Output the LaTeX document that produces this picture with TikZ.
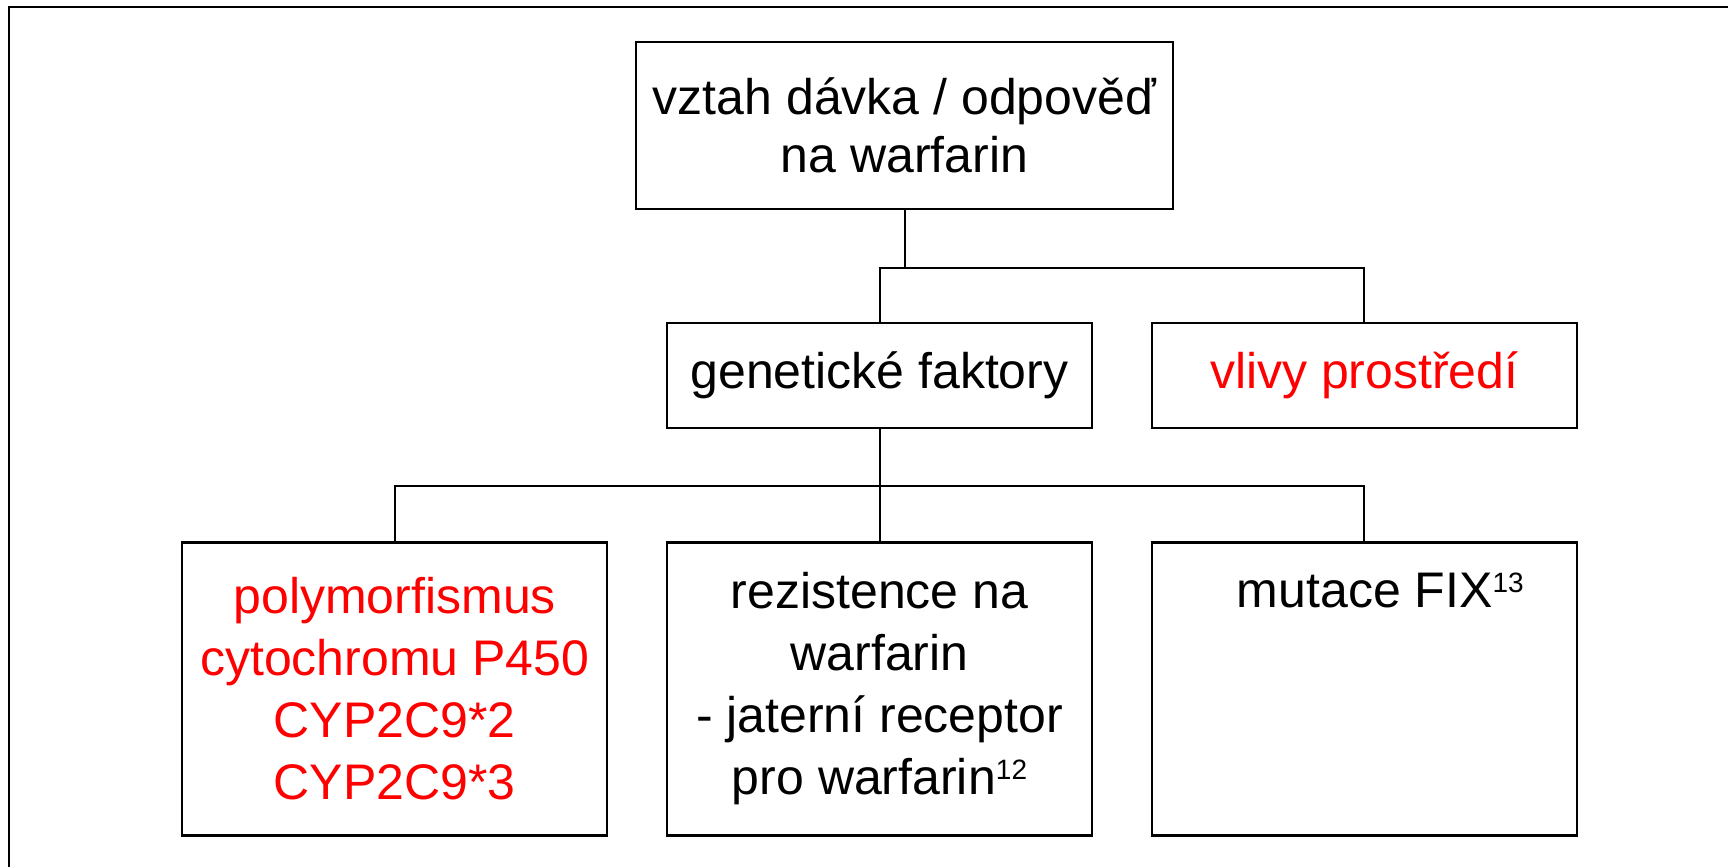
\documentclass[tikz,border=0pt]{standalone}
\usepackage{fontspec}
\setmainfont{Liberation Sans}
\usetikzlibrary{positioning}
\definecolor{PlainRed}{RGB}{255,0,0}
\newcommand{\refnum}[1]{\raisebox{7.5pt}{\fontsize{14}{14}\selectfont #1}}

\begin{document}
\begin{tikzpicture}[x=0.5pt,y=-0.5pt,node distance=56pt and 28.7pt,
  cell/.style={draw,line width=1.2pt,align=center,inner sep=2pt,minimum width=212.5pt},
  font=\fontsize{25}{31}\selectfont]
\useasboundingbox (0,0) rectangle (1728,867);
\draw[line width=1pt] (1728,7)--(9,7)--(9,867);
\node[cell,minimum width=268.5pt,minimum height=83.5pt,font=\fontsize{25}{29}\selectfont] (dose) at (904.5,125.5) {vztah dávka / odpověď\\na warfarin};
\node[cell,minimum height=52.5pt] (genetic) at (879.5,375.5) {genetické faktory};
\node[cell,minimum height=52.5pt,right=of genetic,text=PlainRed] (environ) {vlivy prostředí};
\node[cell,minimum height=146.5pt,below=of genetic] (resist) {rezistence na\\warfarin\\- jaterní receptor\\pro warfarin\refnum{12}};
\node[cell,minimum height=146.5pt,left=of resist,text=PlainRed] (cyp) {polymorfismus\\cytochromu P450\\CYP2C9*2\\CYP2C9*3};
\node[cell,minimum height=146.5pt,right=of resist] (fix) {\hspace*{16pt}mutace FIX\refnum{13}\\\vphantom{p}\\\vphantom{p}\\\vphantom{p}};
% vetveni
\draw[line width=1pt] (dose.south)--++(0,58) coordinate (split1);
\draw[line width=1pt] (genetic.north)|-(split1)-|(environ.north);
\draw[line width=1pt] (genetic.south)--++(0,57) coordinate (split2)--(resist.north);
\draw[line width=1pt] (cyp.north)|-(split2)-|(fix.north);
\end{tikzpicture}
\end{document}
